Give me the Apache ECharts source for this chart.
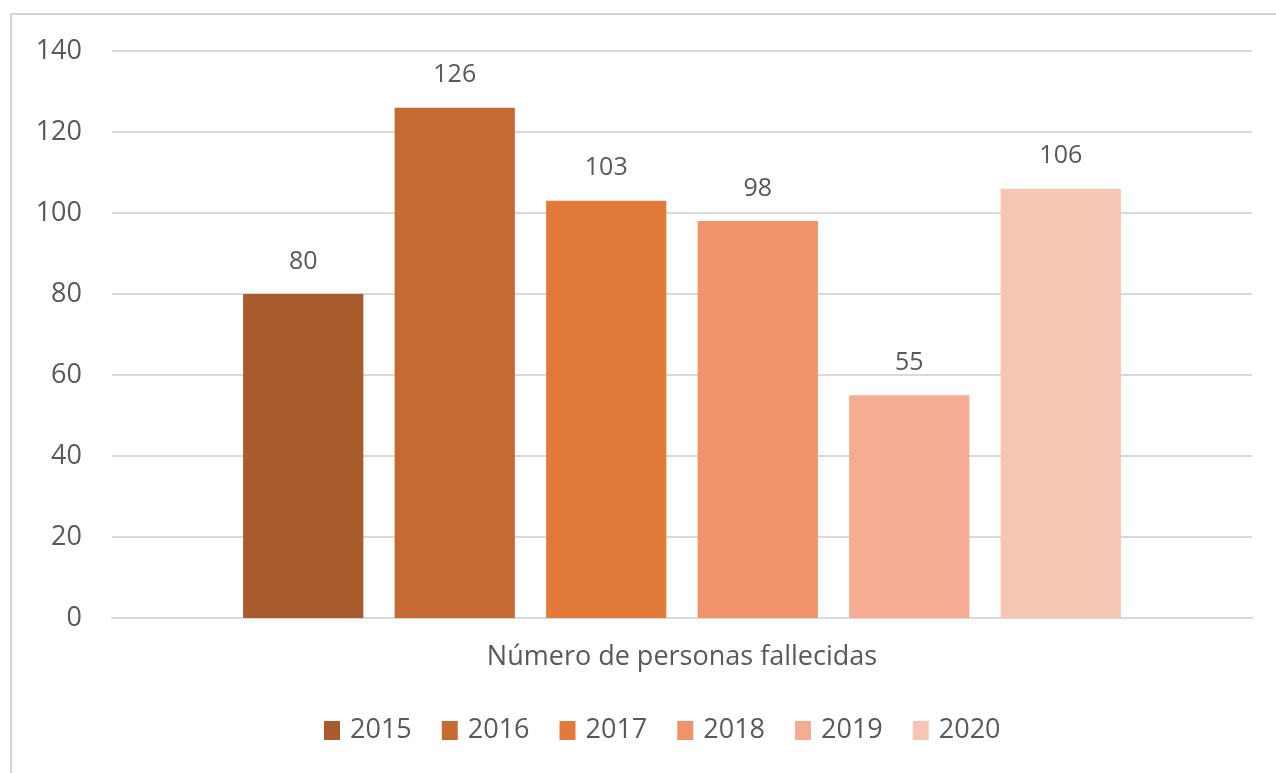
<!DOCTYPE html>
<html>
<head>
<meta charset="utf-8">
<script src="https://cdn.jsdelivr.net/npm/echarts@6/dist/echarts.min.js"></script>
<style>
  html, body { margin: 0; padding: 0; background: #fff; }
  #chart { width: 1276px; height: 773px; }
</style>
</head>
<body>
<div id="chart"></div>
<script>
var categories = ['Número de personas fallecidas'];
var years = ['2015', '2016', '2017', '2018', '2019', '2020'];
var values = [80, 126, 103, 98, 55, 106];
var colors = ['#A85B2B', '#C56A32', '#E27B3A', '#F0926A', '#F4AD92', '#F6C6B5'];
var yTicks = { min: 0, max: 140, interval: 20 };

var myChart = echarts.init(document.getElementById('chart'));

var textColor = '#595959';
var fontFamily = '"Open Sans", "Liberation Sans", sans-serif';

var series = years.map(function (y, i) {
  return {
    name: y,
    type: 'bar',
    data: [values[i]],
    itemStyle: { color: colors[i] },
    barGap: '26%',
    barCategoryGap: '23%',
    label: {
      show: true,
      position: 'top',
      distance: 20,
      color: textColor,
      fontSize: 25,
      fontFamily: fontFamily
    }
  };
});

var option = {
  backgroundColor: '#fff',
  animation: false,
  textStyle: { fontFamily: fontFamily },
  graphic: [
    {
      type: 'rect',
      shape: { x: 11, y: 14, width: 1275, height: 780 },
      style: { fill: 'none', stroke: '#d4d4d4', lineWidth: 2 }
    }
  ],
  grid: { left: 112, right: 24, top: 51, bottom: 155 },
  legend: {
    data: years,
    top: 712,
    left: 319,
    itemWidth: 16,
    itemHeight: 19,
    itemGap: 30,
    icon: 'rect',
    textStyle: { color: textColor, fontSize: 27, fontFamily: fontFamily, padding: [0, 0, 0, 5] }
  },
  xAxis: {
    type: 'category',
    data: categories,
    axisLine: { lineStyle: { color: '#d9d9d9', width: 2 } },
    axisTick: { show: false },
    axisLabel: { color: textColor, fontSize: 27, margin: 26, fontFamily: fontFamily }
  },
  yAxis: {
    type: 'value',
    min: yTicks.min,
    max: yTicks.max,
    interval: yTicks.interval,
    axisLine: { show: false },
    axisTick: { show: false },
    axisLabel: { color: textColor, fontSize: 27, margin: 30, fontFamily: fontFamily },
    splitLine: { lineStyle: { color: '#d9d9d9', width: 2 } }
  },
  series: series
};

option && myChart.setOption(option);
</script>
</body>
</html>
